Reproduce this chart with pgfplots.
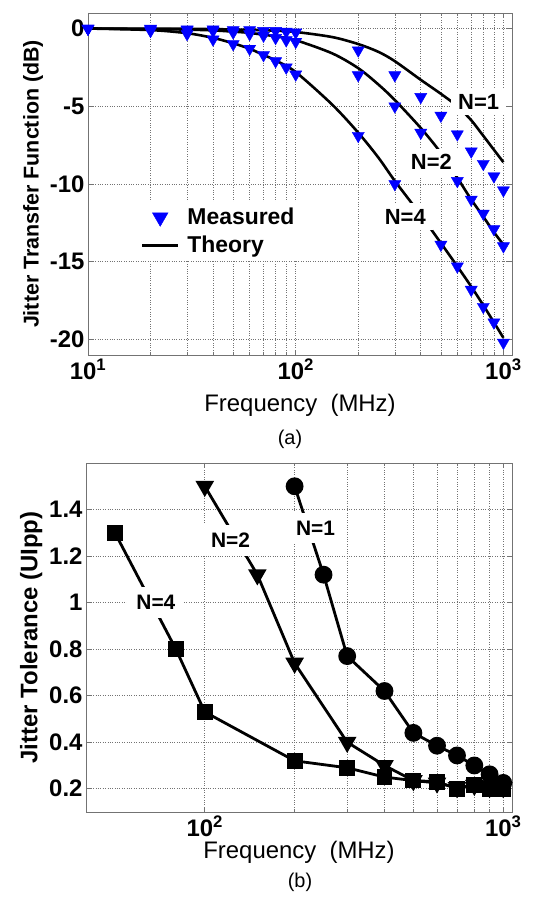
\documentclass[border=0pt]{standalone}
\usepackage{fontspec}
\setmainfont{Liberation Sans}
\usepackage{pgfplots}
\usepackage{pgfplotstable}
\pgfplotsset{compat=1.18}

\pgfplotstableread{
f m1 m2 m4
10 0 0 0
20 0 -0.05 -0.15
30 -0.05 -0.1 -0.35
40 -0.05 -0.15 -0.7
50 -0.1 -0.25 -1.0
60 -0.1 -0.35 -1.3
70 -0.15 -0.45 -1.7
80 -0.15 -0.6 -2.1
90 -0.2 -0.75 -2.5
100 -0.25 -0.85 -2.95
200 -1.4 -3.0 -6.9
300 -3.0 -5.0 -10.0
400 -4.4 -6.7 -12.2
500 -5.6 -8.4 -13.9
600 -6.8 -9.8 -15.3
700 -7.9 -11.0 -16.8
800 -8.7 -11.9 -17.9
900 -9.5 -12.9 -18.9
1000 -10.4 -14.0 -20.2
}\measured

\pgfplotstableread{
f t1 t2 t4
10 0 0 0
20 -0.01 -0.03 -0.1
30 -0.02 -0.07 -0.3
40 -0.04 -0.12 -0.6
50 -0.06 -0.2 -0.95
60 -0.08 -0.28 -1.3
70 -0.11 -0.4 -1.7
80 -0.14 -0.5 -2.05
100 -0.22 -0.75 -2.8
150 -0.55 -1.6 -4.9
200 -1.0 -2.55 -6.7
250 -1.5 -3.6 -8.3
300 -2.1 -4.6 -9.8
400 -3.3 -6.4 -12.0
500 -4.2 -8.0 -13.8
600 -5.0 -9.6 -15.3
700 -5.9 -11.0 -16.6
800 -6.9 -12.1 -17.8
900 -7.8 -13.1 -18.9
1000 -8.6 -13.9 -19.9
}\theory

\pgfplotstableread{
f y
200 1.5
250 1.12
300 0.77
400 0.62
500 0.44
600 0.385
700 0.343
800 0.30
900 0.262
1000 0.225
}\tolone

\pgfplotstableread{
f y
100 1.5
150 1.12
200 0.74
300 0.40
400 0.30
500 0.235
600 0.225
700 0.205
800 0.215
900 0.205
1000 0.205
}\toltwo

\pgfplotstableread{
f y
50 1.3
80 0.8
100 0.53
200 0.32
300 0.29
400 0.25
500 0.235
600 0.23
700 0.2
800 0.215
900 0.2
1000 0.2
}\tolfour

\begin{document}
\begin{tikzpicture}[x=1bp,y=1bp]
\path[use as bounding box] (0,0) rectangle (539,900);

% ---------------- (a) ----------------
\begin{axis}[
  scale only axis, xmode=log, grid=both,
  major grid style={dotted, black!55, line width=0.6bp},
  minor grid style={dotted, black!55, line width=0.6bp},
  axis line style={black!55, line width=0.8bp},
  tick align=inside,
  tick style={black!55, line width=0.6bp},
  major tick length=5bp, minor tick length=3bp,
  ticklabel style={font=\fontsize{24}{24}\selectfont\bfseries},
  /pgf/number format/assume math mode=true,
  xlabel style={font=\fontsize{24}{24}\selectfont, yshift=-8bp},
  ylabel style={font=\fontsize{21.5}{21.5}\selectfont\bfseries},
  at={(88bp,545bp)}, anchor=south west,
  width=424bp, height=342bp,
  xmin=10, xmax=1100, ymin=-21, ymax=1,
  ytick={-20,-15,-10,-5,0},
  xtick={10,100,1000},
  xticklabels={10\textsuperscript{1},10\textsuperscript{2},10\textsuperscript{3}},
  xlabel={Frequency\ \ (MHz)},
  ylabel={Jitter Transfer Function (dB)},
  legend style={at={(0.115,0.447)}, anchor=north west, draw=none, fill=white,
    font=\fontsize{23}{23}\selectfont\bfseries, row sep=6bp, inner xsep=4bp, inner ysep=4bp,
    /tikz/every odd column/.append style={column sep=6bp}},
  legend cell align=left,
  legend image code/.code={\draw[mark repeat=2,mark phase=2,#1] plot coordinates {(0bp,0bp) (18bp,0bp) (36bp,0bp)};},
]
\addlegendimage{only marks, mark=triangle*, mark size=9bp, mark options={rotate=180, fill=blue, draw=blue}}
\addlegendentry{Measured}
\addlegendimage{black, line width=2.5bp}
\addlegendentry{Theory}

\addplot[forget plot, black, line width=2.6bp, smooth] table[x=f, y=t1] {\theory};
\addplot[forget plot, black, line width=2.6bp, smooth] table[x=f, y=t2] {\theory};
\addplot[forget plot, black, line width=2.6bp, smooth] table[x=f, y=t4] {\theory};

\addplot[forget plot, only marks, mark=triangle*, mark size=7bp, mark options={rotate=180, fill=blue, draw=blue}] table[x=f, y=m1] {\measured};
\addplot[forget plot, only marks, mark=triangle*, mark size=7bp, mark options={rotate=180, fill=blue, draw=blue}] table[x=f, y=m2] {\measured};
\addplot[forget plot, only marks, mark=triangle*, mark size=7bp, mark options={rotate=180, fill=blue, draw=blue}] table[x=f, y=m4] {\measured};

\coordinate (a1) at (axis cs:760,-4.7);
\coordinate (a2) at (axis cs:450,-8.6);
\coordinate (a4) at (axis cs:337,-12.1);
\end{axis}

\node[fill=white, font=\fontsize{22}{22}\selectfont\bfseries, inner xsep=7bp, inner ysep=6bp] at (a1) {N=1};
\node[fill=white, font=\fontsize{22}{22}\selectfont\bfseries, inner xsep=7bp, inner ysep=6bp] at (a2) {N=2};
\node[fill=white, font=\fontsize{22}{22}\selectfont\bfseries, inner xsep=7bp, inner ysep=6bp] at (a4) {N=4};

\node[font=\fontsize{20}{20}\selectfont] at (290,461) {(a)};

% ---------------- (b) ----------------
\begin{axis}[
  scale only axis, xmode=log, grid=both,
  major grid style={dotted, black!55, line width=0.6bp},
  minor grid style={dotted, black!55, line width=0.6bp},
  axis line style={black!55, line width=0.8bp},
  tick align=inside,
  tick style={black!55, line width=0.6bp},
  major tick length=5bp, minor tick length=3bp,
  ticklabel style={font=\fontsize{24}{24}\selectfont\bfseries},
  /pgf/number format/assume math mode=true,
  xlabel style={font=\fontsize{24}{24}\selectfont, yshift=2bp},
  ylabel style={font=\fontsize{24}{24}\selectfont\bfseries},
  at={(86bp,88bp)}, anchor=south west,
  width=426bp, height=349bp,
  xmin=40, xmax=1070, ymin=0.1, ymax=1.6,
  ytick={0.2,0.4,0.6,0.8,1,1.2,1.4},
  yticklabels={0.2,0.4,0.6,0.8,1,1.2,1.4},
  xtick={100,1000},
  xticklabels={10\textsuperscript{2},10\textsuperscript{3}},
  xlabel={Frequency\ \ (MHz)},
  ylabel={Jitter Tolerance (UIpp)},
]
\addplot[black, line width=2.8bp, mark=*, mark size=7.5bp] table[x=f, y=y] {\tolone};
\addplot[black, line width=2.8bp, mark=triangle*, mark size=8bp, mark options={rotate=180}] table[x=f, y=y] {\toltwo};
\addplot[black, line width=2.8bp, mark=square*, mark size=6.5bp] table[x=f, y=y] {\tolfour};

\coordinate (b1) at (axis cs:235,1.32);
\coordinate (b2) at (axis cs:122,1.267);
\coordinate (b4) at (axis cs:68.6,1.0);
\end{axis}

\node[fill=white, font=\fontsize{21}{21}\selectfont\bfseries, inner xsep=9bp, inner ysep=8bp] at (b1) {N=1};
\node[fill=white, font=\fontsize{21}{21}\selectfont\bfseries, inner xsep=9bp, inner ysep=8bp] at (b2) {N=2};
\node[fill=white, font=\fontsize{21}{21}\selectfont\bfseries, inner xsep=9bp, inner ysep=8bp] at (b4) {N=4};

\node[font=\fontsize{20}{20}\selectfont] at (300,18) {(b)};
\end{tikzpicture}
\end{document}
